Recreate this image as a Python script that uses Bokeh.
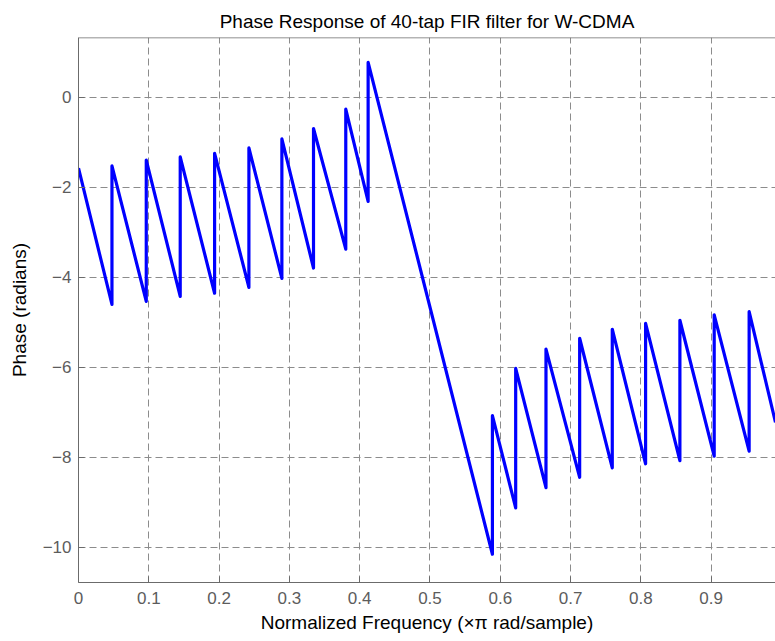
from bokeh.plotting import figure
from bokeh.models import Range1d, FixedTicker, Span
from bokeh.embed import file_html
from bokeh.resources import INLINE

# Vertices of the wrapped phase curve (x in units of pi rad/sample)
freq = [0.0,
        0.0476, 0.0476, 0.0964, 0.0964, 0.1447, 0.1447, 0.1936, 0.1936,
        0.2424, 0.2424, 0.2893, 0.2893, 0.3343, 0.3343, 0.3802, 0.3802,
        0.4120, 0.4120, 0.5888, 0.5888, 0.6219, 0.6219, 0.6650, 0.6650,
        0.7129, 0.7129, 0.7593, 0.7593, 0.8067, 0.8067, 0.8555, 0.8555,
        0.9043, 0.9043, 0.9540, 0.9540, 0.9915]
phase = [-1.57,
         -4.60, -1.52, -4.53, -1.39, -4.42, -1.32, -4.35, -1.24,
         -4.22, -1.12, -4.02, -0.92, -3.79, -0.69, -3.37, -0.26,
         -2.31, 0.78, -10.15, -7.07, -9.12, -6.02, -8.67, -5.59,
         -8.44, -5.35, -8.23, -5.15, -8.14, -5.02, -8.07, -4.95,
         -7.97, -4.83, -7.86, -4.76, -7.22]

x_ticks = [0, 0.1, 0.2, 0.3, 0.4, 0.5, 0.6, 0.7, 0.8, 0.9]
y_ticks = [-10, -8, -6, -4, -2, 0]
x_limits = (0.0, 0.9915)
y_limits = (-10.778, 1.333)

FONT = "Liberation Sans"
AX = "#6b6b6b"
TICKLBL = "#5c5c5c"

p = figure(width=775, height=641, output_backend="svg", toolbar_location=None,
           x_range=Range1d(*x_limits), y_range=Range1d(*y_limits),
           min_border_left=78, min_border_right=0, min_border_top=37, min_border_bottom=59,
           title="Phase Response of 40-tap FIR filter for W-CDMA")
p.background_fill_color = "white"
p.border_fill_color = "white"
p.outline_line_color = None

p.title.align = "center"
p.title.text_font = FONT
p.title.text_font_size = "19px"
p.title.text_font_style = "normal"
p.title.text_color = "black"
p.title.standoff = 11

p.line(freq, phase, line_width=3.2, line_color="#0000ff", line_join="round")

for ax in (p.xaxis[0], p.yaxis[0]):
    ax.axis_line_color = AX
    ax.major_tick_line_color = AX
    ax.major_tick_in = 6
    ax.major_tick_out = 0
    ax.minor_tick_line_color = None
    ax.major_label_text_font = FONT
    ax.major_label_text_font_size = "17px"
    ax.major_label_text_color = TICKLBL
    ax.axis_label_text_font = FONT
    ax.axis_label_text_font_size = "19px"
    ax.axis_label_text_font_style = "normal"
    ax.axis_label_text_color = "black"

p.xaxis.ticker = FixedTicker(ticks=x_ticks)
p.yaxis.ticker = FixedTicker(ticks=y_ticks)
p.xaxis.major_label_overrides = {0: "0"}
p.xaxis.axis_label = "Normalized Frequency (\u00d7\u03c0 rad/sample)"
p.yaxis.axis_label = "Phase (radians)"
p.xaxis.major_label_standoff = 9
p.xaxis.axis_label_standoff = 5
p.yaxis.major_label_standoff = 7
p.yaxis.axis_label_standoff = 10

# top border of the axes box
p.add_layout(Span(location=y_limits[1], dimension="width", line_color=AX, line_width=1.5))

for g in (p.xgrid[0], p.ygrid[0]):
    g.grid_line_color = "#8c8c8c"
    g.grid_line_dash = "7 4"
    g.grid_line_width = 1
p.xgrid.ticker = FixedTicker(ticks=x_ticks)
p.ygrid.ticker = FixedTicker(ticks=y_ticks)

open("out.html", "w").write(file_html(p, INLINE))
